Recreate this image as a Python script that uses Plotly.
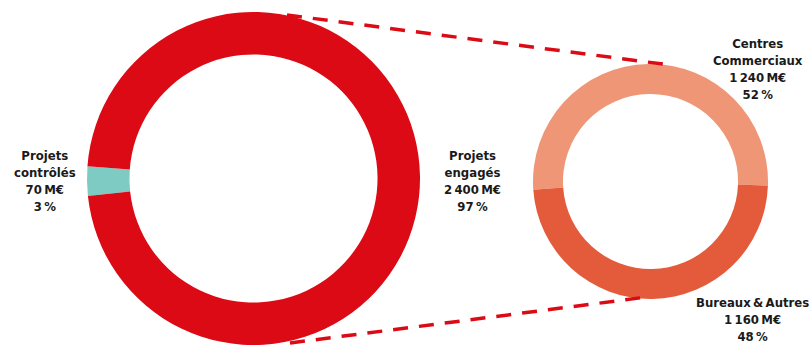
import plotly.graph_objects as go

W, H = 811, 345

# Project pipeline split (M€)
main_labels = ["Projets contrôlés", "Projets engagés"]
main_values = [70, 2400]
main_pct = [3, 97]
main_colors = ["#7ECBC4", "#DC0A14"]

# Breakdown of committed projects (M€)
sub_labels = ["Centres Commerciaux", "Bureaux & Autres"]
sub_values = [1240, 1160]
sub_pct = [52, 48]
sub_colors = ["#EF9677", "#E45B3C"]


def px_dom(x0, x1, y0, y1):
    return dict(x=[x0 / W, x1 / W], y=[1 - y1 / H, 1 - y0 / H])


def fmt_meur(v):
    s = f"{v:,}".replace(",", "\u2009")
    return f"{s}\u2009M€"


fig = go.Figure()

fig.add_trace(go.Pie(
    labels=main_labels, values=main_values, hole=0.745, sort=False,
    direction="clockwise", rotation=264,
    marker=dict(colors=main_colors, line=dict(width=0)),
    textinfo="none", hoverinfo="label+value",
    domain=px_dom(87, 420, 12, 345), showlegend=False,
))

fig.add_trace(go.Pie(
    labels=sub_labels, values=sub_values, hole=0.745, sort=False,
    direction="clockwise", rotation=266,
    marker=dict(colors=sub_colors, line=dict(width=0)),
    textinfo="none", hoverinfo="label+value",
    domain=px_dom(533, 768, 64, 299), showlegend=False,
))

# Dashed connectors between the two rings
red = "#DC0A14"
for (x0, y0, x1, y1) in [(287, 15, 670, 65), (290, 343, 647, 297)]:
    fig.add_shape(type="line", xref="paper", yref="paper",
                  x0=x0 / W, y0=1 - y0 / H, x1=x1 / W, y1=1 - y1 / H,
                  line=dict(color=red, width=3.5, dash="15px,11px"))

font = dict(family="DejaVu Sans Condensed", size=13, color="#1a1a1a")


def label_text(name, value, pct):
    if name.startswith("Projets") or name.startswith("Centres"):
        name = name.replace(" ", "<br>")
    else:
        name = name.replace(" & ", "\u2009&\u2009")
    return f"<b>{name}<br>{fmt_meur(value)}<br>{pct}\u2009%</b>"


positions = [(45, 181), (472, 181), (758, 69), (752, 319)]
texts = [label_text(n, v, p) for n, v, p in zip(main_labels, main_values, main_pct)] + \
        [label_text(n, v, p) for n, v, p in zip(sub_labels, sub_values, sub_pct)]
for (x, y), t in zip(positions, texts):
    fig.add_annotation(x=x / W, y=1 - y / H, xref="paper", yref="paper",
                       text=t, showarrow=False, align="center", font=font,
                       xanchor="center", yanchor="middle")

fig.update_layout(width=W, height=H, margin=dict(l=0, r=0, t=0, b=0),
                  paper_bgcolor="white", plot_bgcolor="white")

fig.write_html("out.html")
